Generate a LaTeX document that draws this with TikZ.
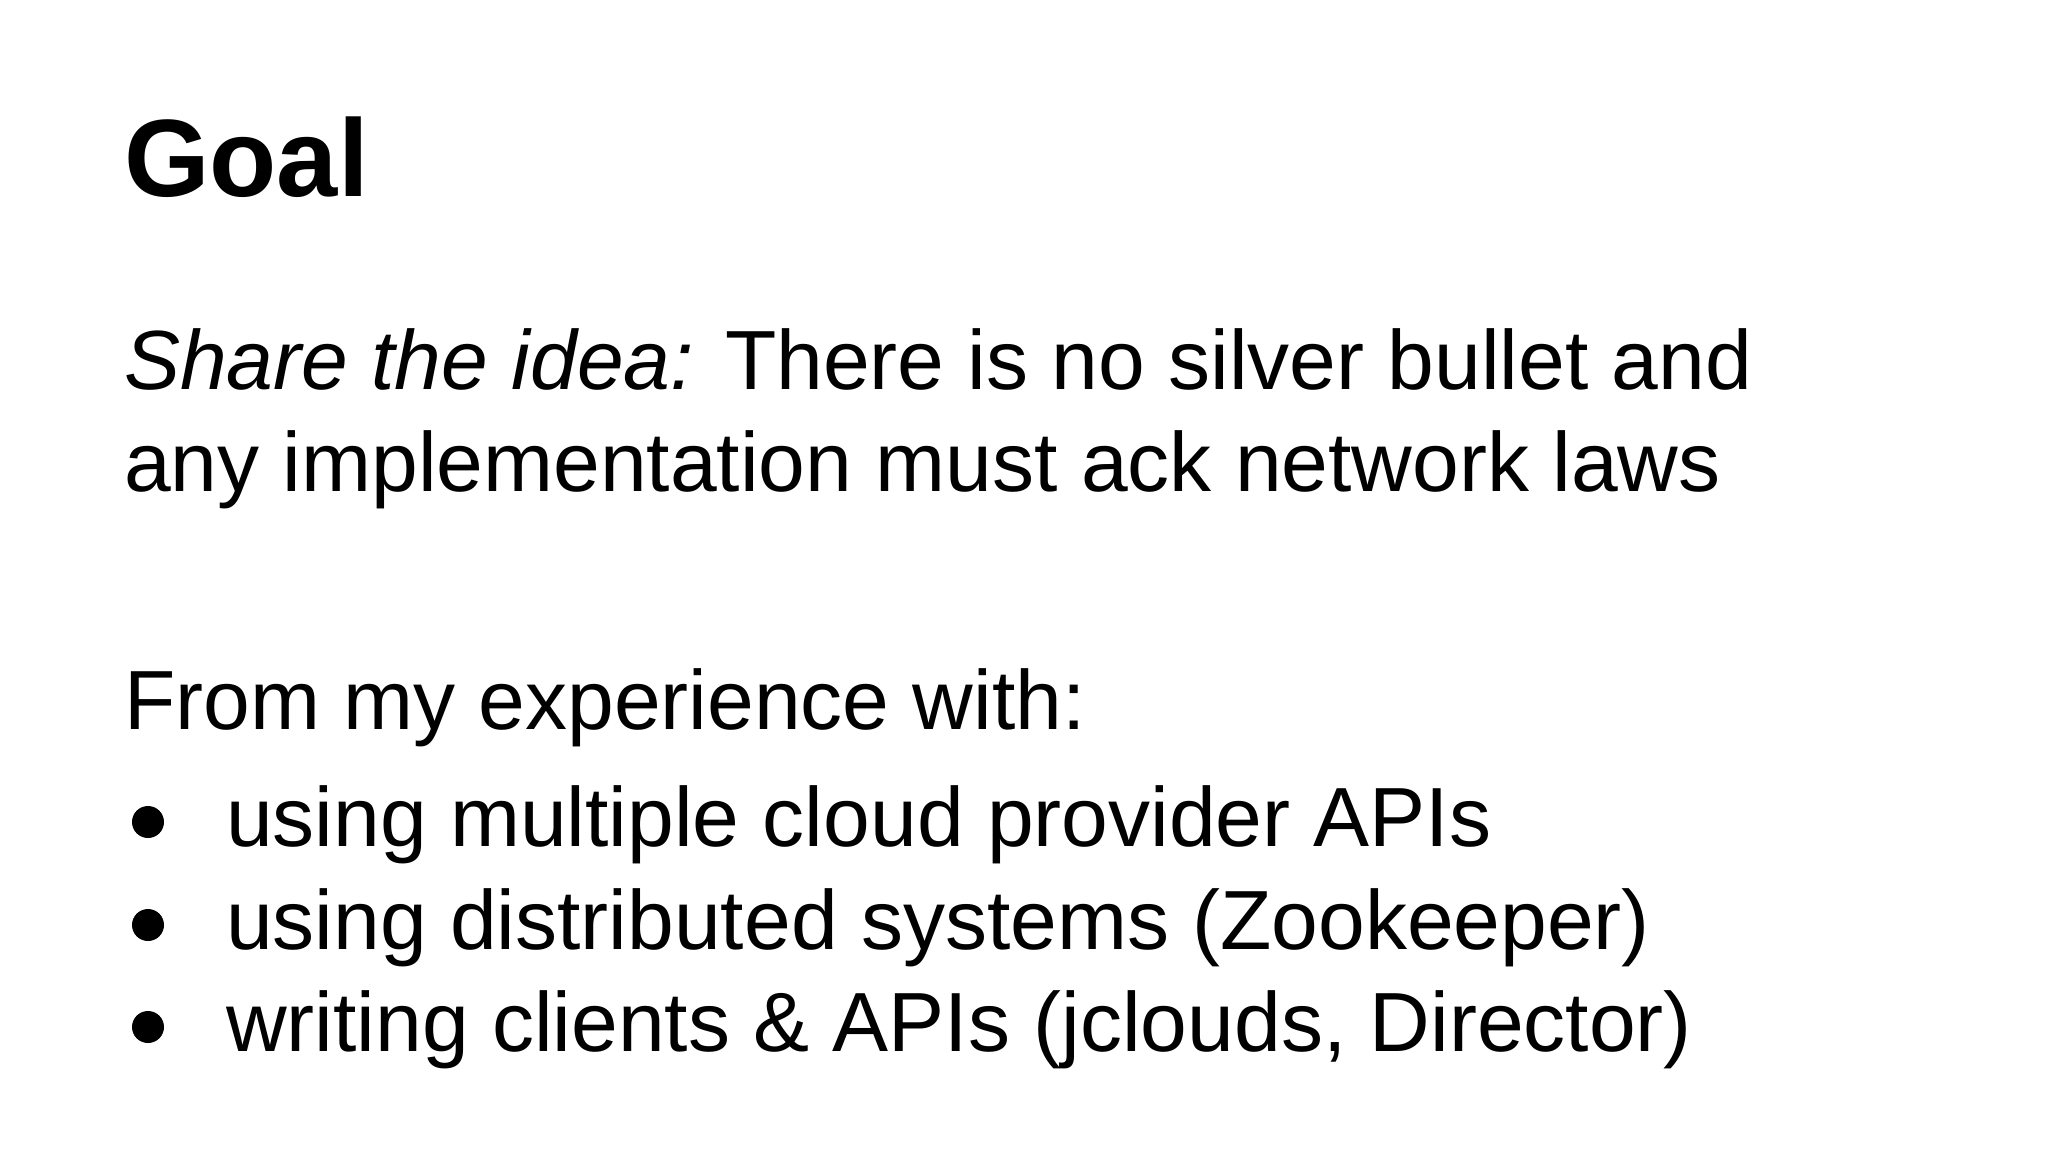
\documentclass[tikz,border=0pt]{standalone}
\usepackage{fontspec}
\setmainfont{Liberation Sans}
\begin{document}
\begin{tikzpicture}[x=1pt,y=-1pt,
  txt/.style={anchor=base west,inner sep=0pt,font=\fontsize{84}{102}\selectfont},
  bul/.style={circle,fill=black,inner sep=0pt,minimum size=32pt}]
\useasboundingbox (0,0) rectangle (2048,1152);
\node[anchor=base west,inner sep=0pt,font=\fontsize{110}{130}\selectfont\bfseries] (goal) at (124,196) {Goal};
\node[txt] (l1) at (124,389) {\textit{Share the idea:} There is no silver bullet and};
\node[txt] (l2) at (124,491) {any implementation must ack network laws};
\node[txt] (l3) at (124,729) {From my experience with:};
\node[txt] (b1) at (226,846) {using multiple cloud provider APIs};
\node[txt] (b2) at (226,949) {using distributed systems (Zookeeper)};
\node[txt] (b3) at (226,1051) {writing clients \& APIs (jclouds, Director)};
\node[bul] (d1) at (148,822) {};
\node[bul] (d2) at (148,925) {};
\node[bul] (d3) at (148,1027) {};
\end{tikzpicture}
\end{document}
